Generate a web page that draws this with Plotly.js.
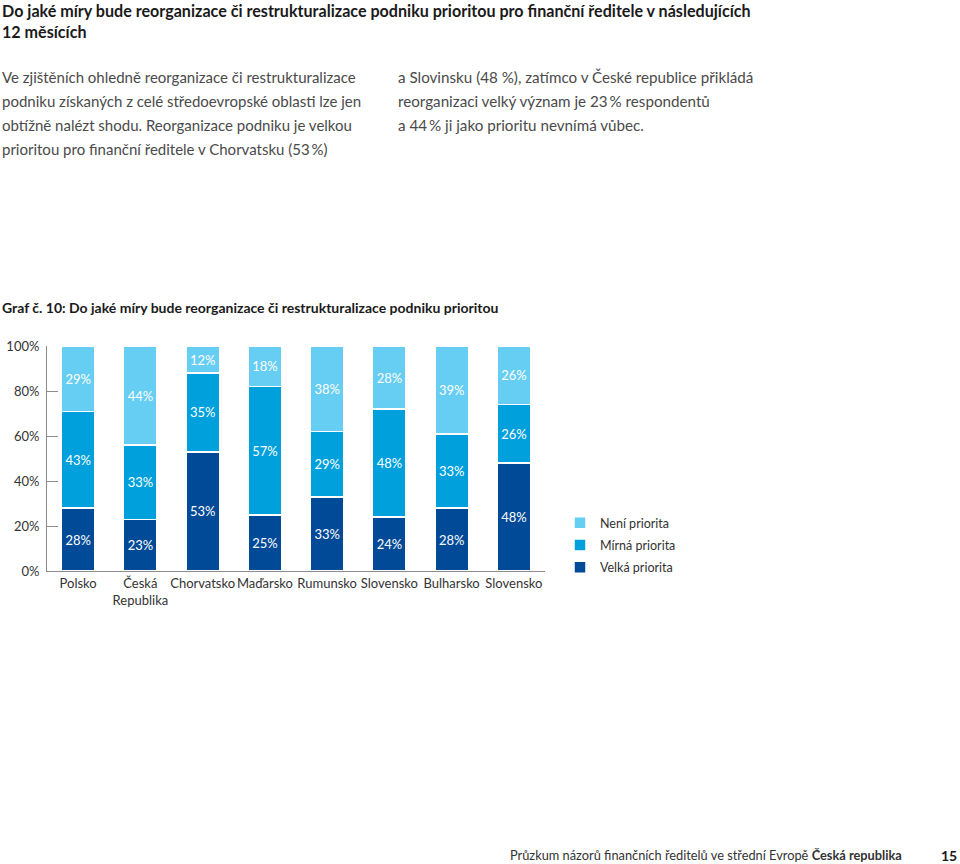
<!DOCTYPE html>
<html>
<head>
<meta charset="utf-8">
<script src="https://cdn.plot.ly/plotly-3.0.1.min.js"></script>
<style>
  html, body { margin: 0; padding: 0; background: #fff; }
  #chart { width: 960px; height: 864px; }
</style>
</head>
<body>
<div id="chart"></div>
<script>
// ---- data ----
const categories = ["Polsko", "Česká<br>Republika", "Chorvatsko", "Maďarsko", "Rumunsko", "Slovensko", "Bulharsko", "Slovensko"];
const velkaPriorita = [28, 23, 53, 25, 33, 24, 28, 48];
const mirnaPriorita = [43, 33, 35, 57, 29, 48, 33, 26];
const neniPriorita  = [29, 44, 12, 18, 38, 28, 39, 26];
const seriesNames = ["Velká priorita", "Mírná priorita", "Není priorita"];
const yTickValues = [0, 20, 40, 60, 80, 100];
const yTickLabels = ["0%", "20%", "40%", "60%", "80%", "100%"];

const titleLines = [
  "Do jaké míry bude reorganizace či restrukturalizace podniku prioritou pro finanční ředitele v následujících",
  "12 měsících"
];
const bodyLeft = [
  "Ve zjištěních ohledně reorganizace či restrukturalizace",
  "podniku získaných z celé středoevropské oblasti lze jen",
  "obtížně nalézt shodu. Reorganizace podniku je velkou",
  "prioritou pro finanční ředitele v Chorvatsku (53\u2009%)"
];
const bodyRight = [
  "a Slovinsku (48 %), zatímco v České republice přikládá",
  "reorganizaci velký význam je 23\u2009% respondentů",
  "a 44\u2009% ji jako prioritu nevnímá vůbec."
];
const chartHeading = "Graf č. 10: Do jaké míry bude reorganizace či restrukturalizace podniku prioritou";
const footerText = "Průzkum názorů finančních ředitelů ve střední Evropě <b>Česká republika</b>";
const pageNumber = "15";

// ---- layout helpers ----
const L = 47, R = 545, T = 346, B = 571;
const px = x => (x - L) / (R - L);
const py = y => (B - y) / (B - T);
const FONT = "Lato, 'Open Sans', sans-serif";

const colors = ["#004a97", "#00a0dc", "#66cdf3"];
const xIdx = categories.map((c, i) => i);
const values = [velkaPriorita, mirnaPriorita, neniPriorita];

const traces = values.map((v, k) => ({
  type: "bar",
  name: seriesNames[k],
  legendgroup: "g" + k,
  legendrank: 1000 - k,
  x: xIdx,
  y: v,
  width: 0.54,
  marker: { color: colors[k], line: { color: "#ffffff", width: 1.5 } },
  text: v.map(d => d + "%"),
  textinfo: "text",
  textposition: "inside",
  insidetextanchor: "middle",
  textangle: 0,
  textfont: { family: FONT, size: 13, color: "#ffffff" },
  hoverinfo: "skip"
}));

const annotations = [];
function addText(text, x, y, opts) {
  annotations.push(Object.assign({
    text: text, xref: "paper", yref: "paper",
    x: px(x), y: py(y), xanchor: "left", yanchor: "middle",
    showarrow: false, font: { family: FONT, size: 14, color: "#4a4a4a" }
  }, opts || {}));
}
titleLines.forEach((t, i) => addText("<b>" + t + "</b>", 0, 10 + i * 21,
  { font: { family: FONT, size: 16.1, color: "#1a1a1a" } }));
bodyLeft.forEach((t, i) => addText(t, 0, 77 + i * 24, { font: { family: FONT, size: 15, color: "#4a4a4a" } }));
bodyRight.forEach((t, i) => addText(t, 396, 77 + i * 24, { font: { family: FONT, size: 15.2, color: "#4a4a4a" } }));
addText("<b>" + chartHeading + "</b>", 0, 307, { font: { family: FONT, size: 14, color: "#1a1a1a" } });
addText(footerText, 904, 855, { xanchor: "right", font: { family: FONT, size: 12.8, color: "#333" } });
addText("<b>" + pageNumber + "</b>", 959, 855, { xanchor: "right", font: { family: FONT, size: 14, color: "#1a1a1a" } });

const layout = {
  width: 960, height: 864,
  margin: { l: L, r: 960 - R, t: T, b: 864 - B, pad: 0 },
  paper_bgcolor: "#ffffff", plot_bgcolor: "#ffffff",
  barmode: "stack",
  showlegend: true,
  font: { family: FONT, size: 13, color: "#333" },
  xaxis: {
    range: [-0.5, categories.length - 0.5],
    tickvals: xIdx, ticktext: categories,
    tickangle: 0,
    showgrid: false, zeroline: false,
    showline: true, linecolor: "#8c8c8c", linewidth: 1,
    ticks: "", tickfont: { family: FONT, size: 13, color: "#333" },
    fixedrange: true
  },
  yaxis: {
    range: [0, 100],
    tickvals: yTickValues, ticktext: yTickLabels,
    showgrid: false, zeroline: false,
    showline: true, linecolor: "#8c8c8c", linewidth: 1,
    ticks: "inside", ticklen: 11, tickcolor: "#8c8c8c", tickwidth: 1,
    ticklabelstandoff: 4,
    tickfont: { family: FONT, size: 13, color: "#333" },
    fixedrange: true
  },
  legend: {
    x: px(560), xanchor: "left", y: py(508), yanchor: "top",
    traceorder: "grouped", tracegroupgap: 3,
    font: { family: FONT, size: 12.5, color: "#333" },
    bgcolor: "rgba(0,0,0,0)"
  },
  annotations: annotations
};

Plotly.newPlot("chart", traces, layout, { displayModeBar: false, staticPlot: true });
</script>
</body>
</html>
